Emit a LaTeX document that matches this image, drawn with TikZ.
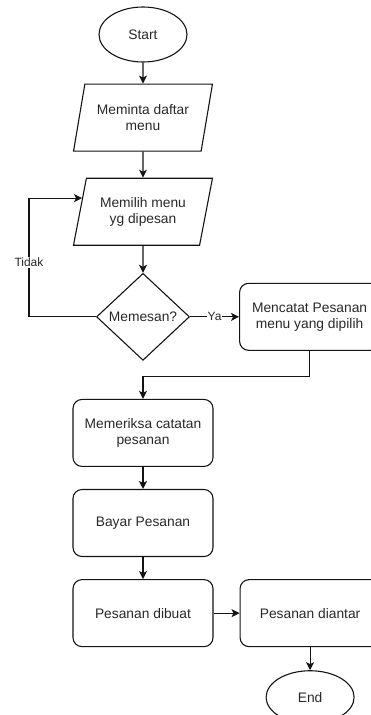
\documentclass[tikz,border=0pt]{standalone}
\usepackage{fontspec}
\setmainfont{Liberation Sans}
\usepackage{tikz}
\usetikzlibrary{shapes.geometric,arrows.meta,positioning,calc}
\definecolor{txtcol}{RGB}{40,40,40}
\definecolor{linecol}{RGB}{20,20,20}

\begin{document}
\begin{tikzpicture}[
    >={Stealth[length=8pt,width=8pt,inset=2pt]},
    termbox/.style={draw=linecol, ellipse, line width=1.1pt, minimum width=88pt, minimum height=55pt,
                    inner sep=0pt, font=\fontsize{13.8pt}{16pt}\selectfont, text=txtcol},
    iobox/.style={draw=linecol, trapezium, trapezium left angle=72, trapezium right angle=108,
                  trapezium stretches=true, line width=1.1pt, minimum width=139pt, minimum height=67pt,
                  inner sep=1pt, align=center, font=\fontsize{13.8pt}{16pt}\selectfont, text=txtcol},
    procbox/.style={draw=linecol, rounded corners=9pt, line width=1.1pt, minimum width=140pt,
                    minimum height=67pt, align=center, font=\fontsize{13.8pt}{16pt}\selectfont, text=txtcol},
    decbox/.style={draw=linecol, diamond, aspect=1.07, line width=1.1pt, minimum width=93pt,
                   minimum height=87pt, inner sep=0pt, font=\fontsize{13.8pt}{16pt}\selectfont, text=txtcol},
    arr/.style={->, line width=1.1pt, color=linecol},
    lbl/.style={font=\fontsize{12pt}{14pt}\selectfont, text=txtcol, fill=white, inner sep=1pt},
]
\useasboundingbox (0,0) rectangle (371pt,-715pt);

% ============ LEFT COLUMN ============
\node[termbox] at (143pt,-34.5pt) (start) {Start};
\node[iobox, below=21pt of start] (minta) {Meminta daftar\\menu};
\node[iobox, below=26pt of minta] (pilih) {Memilih menu\\yg dipesan};
\node[decbox, below=27pt of pilih] (pesan) {Memesan?};
\node[procbox, below=38pt of pesan] (periksa) {Memeriksa catatan\\pesanan};
\node[procbox, below=22pt of periksa] (bayar) {Bayar Pesanan};
\node[procbox, below=22pt of bayar] (dibuat) {Pesanan dibuat};

% ============ RIGHT COLUMN ============
\node[procbox, right=49pt of pesan] (catat) {Mencatat Pesanan\\menu yang dipilih};
\node[procbox, right=26pt of dibuat] (antar) {Pesanan diantar};
\node[termbox, minimum height=53pt, below=23pt of antar] (end) {End};

% ============ ARROWS ============
\draw[arr] (start) -- (minta);
\draw[arr] (minta) -- (pilih);
\draw[arr] (pilih) -- (pesan);

% loop back when no order
\coordinate (back) at ($(pilih.bottom left corner)!0.70!(pilih.top left corner)$);
\draw[arr] (pesan.west) -- ++(-67pt,0) |- node[pos=0.23, lbl] {Tidak} (back);

\draw[arr] (pesan.east) -- node[lbl] {Ya} (catat.west);
\draw[arr] (catat.south) -- ++(0,-26pt) -| (periksa.north);
\draw[arr] (periksa) -- (bayar);
\draw[arr] (bayar) -- (dibuat);
\draw[arr] (dibuat) -- (antar);
\draw[arr] (antar) -- (end);

\end{tikzpicture}
\end{document}
